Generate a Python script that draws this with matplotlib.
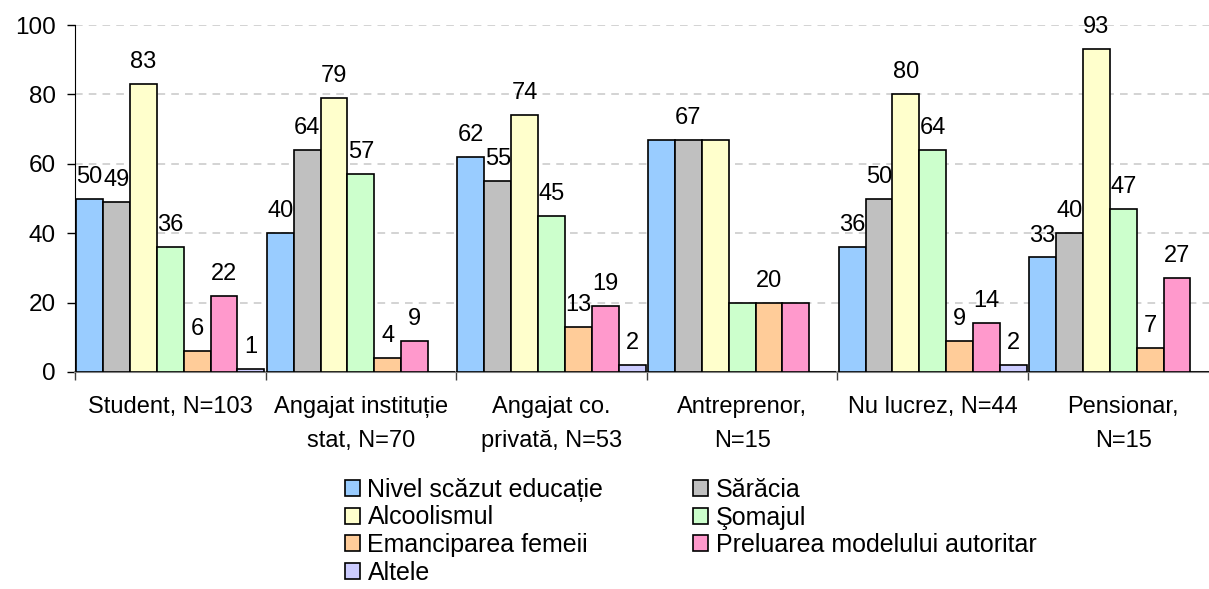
import matplotlib
matplotlib.use('Agg')
import matplotlib.pyplot as plt
import numpy as np

plt.rcParams['font.family'] = ['Liberation Sans', 'DejaVu Sans']

# Date
categories = ['Student, N=103', 'Angajat instituție\nstat, N=70', 'Angajat co.\nprivată, N=53',
              'Antreprenor,\nN=15', 'Nu lucrez, N=44', 'Pensionar,\nN=15']
series = ['Nivel scăzut educație', 'Sărăcia', 'Alcoolismul', 'Şomajul',
          'Emanciparea femeii', 'Preluarea modelului autoritar', 'Altele']
nivel = [50, 40, 62, 67, 36, 33]
saracia = [49, 64, 55, 67, 50, 40]
alcool = [83, 79, 74, 67, 80, 93]
somaj = [36, 57, 45, 20, 64, 47]
emancipare = [6, 4, 13, 20, 9, 7]
preluare = [22, 9, 19, 20, 14, 27]
altele = [1, 0, 2, 0, 2, 0]
values = [nivel, saracia, alcool, somaj, emancipare, preluare, altele]
# etichete ascunse (suprapuse in original): (grupa, serie)
hidden = [(3, 0), (3, 2), (3, 3), (3, 5)]

colors = ['#99CCFF', '#C0C0C0', '#FFFFCC', '#CCFFCC', '#FFCC99', '#FF99CC', '#CCCCFF']

fig = plt.figure(figsize=(12.09, 5.89), dpi=100)
ax = fig.add_axes([75 / 1209, 1 - 372 / 589, 1143.6 / 1209, 347 / 589])

n_groups = len(categories)
n_series = len(series)
bw = 0.141
start = (1 - n_series * bw) / 2
x = np.arange(n_groups)

handles = []
for j, (name, vals) in enumerate(zip(series, values)):
    xs = x + start + (j + 0.5) * bw
    h = ax.bar(xs, vals, width=bw, color=colors[j], edgecolor='black', linewidth=1.2,
               label=name, zorder=3)
    handles.append(h)
    for i, v in enumerate(vals):
        if v == 0 or (i, j) in hidden:
            continue
        ax.annotate(str(v), (xs[i], v), xytext=(0, 11.5), textcoords='offset points',
                    ha='center', va='baseline', fontsize=17)

ax.set_xlim(0, n_groups)
ax.set_ylim(0, 100)
ax.set_yticks([0, 20, 40, 60, 80, 100])
ax.yaxis.grid(True, color='#C8C8C8', linestyle=(0, (5, 4)), linewidth=1.1, zorder=0)
ax.set_axisbelow(True)

ax.set_xticks(np.arange(n_groups + 1))
ax.set_xticklabels([])
ax.set_xticks(x + 0.5, minor=True)
ax.set_xticklabels(categories, minor=True, fontsize=17)
for lab in ax.get_xticklabels(minor=True):
    lab.set_linespacing(1.7)
ax.tick_params(axis='x', which='major', direction='out', length=6, width=1, color='#404040')
ax.tick_params(axis='x', which='minor', length=0, pad=17)
ax.tick_params(axis='y', direction='out', length=6, width=1, labelsize=17.5, pad=8)

for s in ['top', 'right']:
    ax.spines[s].set_visible(False)
ax.spines['left'].set_color('black')
ax.spines['bottom'].set_color('#808080')
ax.spines['bottom'].set_linewidth(1.5)

# ordine pe coloane pentru legenda pe 2 coloane
order = [0, 2, 4, 6, 1, 3, 5]
fig.legend([handles[k] for k in order], [series[k] for k in order], ncol=2,
           loc='upper left', bbox_to_anchor=(345 / 1209, 1 - 478 / 589), frameon=False,
           fontsize=18, handlelength=0.6, handleheight=0.6, handletextpad=0.3,
           labelspacing=0.14, columnspacing=3.6, borderpad=0, borderaxespad=0)

fig.savefig('out.png', dpi=100)
